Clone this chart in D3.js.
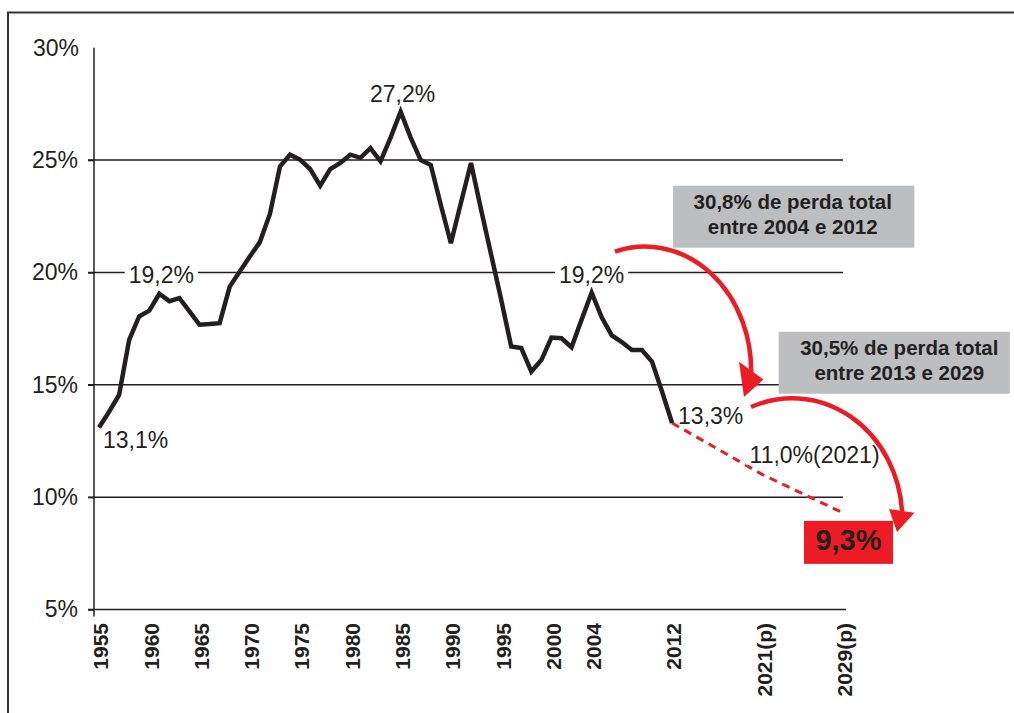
<!DOCTYPE html>
<meta charset="utf-8">
<style>
  body { margin: 0; background: #fff; }
  text { font-family: "Liberation Sans", Arial, sans-serif; fill: #231f20; }
</style>
<body>
<script src="https://d3js.org/d3.v7.min.js"></script>
<script>
  // participação (%) por ano
  var years = [1955, 1956, 1957, 1958, 1959, 1960, 1961, 1962, 1963, 1964,
    1965, 1966, 1967, 1968, 1969, 1970, 1971, 1972, 1973, 1974,
    1975, 1976, 1977, 1978, 1979, 1980, 1981, 1982, 1983, 1984,
    1985, 1986, 1987, 1988, 1989, 1990, 1991, 1992, 1993, 1994,
    1995, 1996, 1997, 1998, 1999, 2000, 2001, 2002, 2003, 2004,
    2005, 2006, 2007, 2008, 2009, 2010, 2011, 2012];
  var shares = [13.1, 13.8, 14.55, 17.0, 18.05, 18.3, 19.05, 18.72, 18.86, 18.27,
    17.67, 17.7, 17.74, 19.37, 20.04, 20.71, 21.35, 22.6, 24.71, 25.24,
    25.02, 24.6, 23.86, 24.6, 24.87, 25.24, 25.1, 25.53, 24.94, 26.0,
    27.15, 26.0, 25.0, 24.78, 23.0, 21.3, 23.1, 24.87, 22.8, 20.8,
    18.8, 16.7, 16.63, 15.59, 16.1, 17.1, 17.07, 16.67, 17.9, 19.1,
    18.0, 17.2, 16.9, 16.55, 16.55, 16.03, 14.7, 13.3];

  // projeção
  var projYears = [2012, 2021, 2029];
  var projShares = [13.3, 11.0, 9.3];

  var yTicks = [5, 10, 15, 20, 25, 30];
  var yTickLabels = ["5%", "10%", "15%", "20%", "25%", "30%"];
  var xTickYears = [1955, 1960, 1965, 1970, 1975, 1980, 1985, 1990, 1995, 2000, 2004, 2012, 2021, 2029];
  var xTickLabels = ["1955", "1960", "1965", "1970", "1975", "1980", "1985", "1990", "1995", "2000", "2004", "2012", "2021(p)", "2029(p)"];

  var width = 1014, height = 713;
  var ink = "#231f20", red = "#ed1c24", grey = "#bcbec0";

  var x = d3.scaleLinear().domain([1955, 2029]).range([99, 843]);
  var y = d3.scaleLinear().domain([5, 30]).range([609.5, 47.7]);

  var svg = d3.select("body").append("svg")
    .attr("width", width)
    .attr("height", height);

  // moldura
  svg.append("rect")
    .attr("x", 8).attr("y", 12.5)
    .attr("width", 1100).attr("height", 800)
    .attr("fill", "none")
    .attr("stroke", "#333").attr("stroke-width", 2);

  // grade
  svg.append("g").selectAll("line")
    .data(yTicks.filter(function (d) { return d > 5 && d < 30; }))
    .enter().append("line")
    .attr("x1", 88).attr("x2", 843)
    .attr("y1", function (d) { return y(d); })
    .attr("y2", function (d) { return y(d); })
    .attr("stroke", ink).attr("stroke-width", 1.5);

  // eixo y
  var yAxis = d3.axisLeft(y)
    .tickValues(yTicks.slice(0, 5))
    .tickFormat(function (d) { return yTickLabels[yTicks.indexOf(d)]; })
    .tickSize(6).tickPadding(10);
  var gy = svg.append("g")
    .attr("transform", "translate(94,0)")
    .call(yAxis);
  gy.select(".domain").remove();
  gy.selectAll(".tick line").attr("stroke", ink).attr("stroke-width", 1.5);
  gy.selectAll(".tick text")
    .style("font-size", "23px")
    .attr("fill", ink);
  // rótulo 30% (sem traço)
  svg.append("text")
    .attr("x", 79).attr("y", y(30))
    .attr("dy", "0.35em")
    .attr("text-anchor", "end")
    .style("font-size", "23px")
    .text(yTickLabels[5]);
  svg.append("line")
    .attr("x1", 94).attr("x2", 94)
    .attr("y1", y(30)).attr("y2", y(5) + 7)
    .attr("stroke", ink).attr("stroke-width", 1.5);

  // eixo x
  svg.append("line")
    .attr("x1", 88).attr("x2", 846)
    .attr("y1", y(5)).attr("y2", y(5))
    .attr("stroke", ink).attr("stroke-width", 1.5);
  svg.append("g").selectAll("text")
    .data(xTickYears)
    .enter().append("text")
    .attr("transform", function (d) {
      return "translate(" + (x(d) + 2) + "," + 623 + ") rotate(-90)";
    })
    .attr("dy", "0.35em")
    .attr("text-anchor", "end")
    .style("font-size", "21px")
    .style("font-weight", "bold")
    .text(function (d, i) { return xTickLabels[i]; });

  // projeção tracejada
  var line = d3.line()
    .x(function (d) { return x(d[0]); })
    .y(function (d) { return y(d[1]); });

  svg.append("path")
    .datum(d3.zip(projYears, projShares))
    .attr("d", line)
    .attr("fill", "none")
    .attr("stroke", red)
    .attr("stroke-width", 3)
    .attr("stroke-dasharray", "8,6");

  // rótulos com fundo branco
  var labels = [
    { yr: 1955, v: 13.1, t: "13,1%", dx: 4, dy: 21, anchor: "start", bg: false },
    { yr: 1961, v: 19.2, t: "19,2%", dx: 2, dy: -7.5, anchor: "middle", bg: true },
    { yr: 1985, v: 27.2, t: "27,2%", dx: 2, dy: -9, anchor: "middle", bg: false },
    { yr: 2004, v: 19.2, t: "19,2%", dx: 0, dy: -7.5, anchor: "middle", bg: true },
    { yr: 2012, v: 13.3, t: "13,3%", dx: 6, dy: 1, anchor: "start", bg: false },
    { yr: 2021, v: 11.0, t: "11,0%(2021)", dx: -13, dy: -12, anchor: "start", bg: true }
  ];

  var lg = svg.append("g").selectAll("g")
    .data(labels)
    .enter().append("g");
  lg.append("text")
    .attr("x", function (d) { return x(d.yr) + d.dx; })
    .attr("y", function (d) { return y(d.v) + d.dy; })
    .attr("text-anchor", function (d) { return d.anchor; })
    .style("font-size", "23px")
    .text(function (d) { return d.t; })
    .each(function (d) {
      if (!d.bg) return;
      var b = this.getBBox();
      d3.select(this.parentNode).insert("rect", "text")
        .attr("x", b.x - 4).attr("y", b.y + 3)
        .attr("width", b.width + 8).attr("height", b.height - 6)
        .attr("fill", "#fff");
    });

  // série principal
  svg.append("path")
    .datum(d3.zip(years, shares))
    .attr("d", line)
    .attr("fill", "none")
    .attr("stroke", ink)
    .attr("stroke-width", 4.5)
    .attr("stroke-linejoin", "miter");

  // caixas cinza
  var boxes = [
    { x0: 2012.1, x1: 2036.1, v0: 23.86, v1: 21.1, cx: 2024.0, lines: ["30,8% de perda total", "entre 2004 e 2012"] },
    { x0: 2022.6, x1: 2045.6, v0: 17.36, v1: 14.6, cx: 2034.6, lines: ["30,5% de perda total", "entre 2013 e 2029"] }
  ];
  var bg = svg.append("g").selectAll("g").data(boxes).enter().append("g");
  bg.append("rect")
    .attr("x", function (d) { return x(d.x0); })
    .attr("y", function (d) { return y(d.v0); })
    .attr("width", function (d) { return x(d.x1) - x(d.x0); })
    .attr("height", function (d) { return y(d.v1) - y(d.v0); })
    .attr("fill", grey);
  bg.each(function (d) {
    var g = d3.select(this);
    d.lines.forEach(function (t, i) {
      g.append("text")
        .attr("x", x(d.cx))
        .attr("y", y(d.v0) + 23 + i * 25)
        .attr("text-anchor", "middle")
        .style("font-size", "20.5px")
        .style("font-weight", "bold")
        .text(t);
    });
  });

  // setas vermelhas
  var arrows = [
    { s: [2006.32, 20.92], e: [2019.85, 15.35], rx: 106, ry: 124,
      b1: [2018.66, 16.03], b2: [2021.09, 15.24], tip: [2019.15, 14.46] },
    { s: [2019.85, 14.01], e: [2034.87, 9.38], rx: 110, ry: 121,
      b1: [2033.58, 9.47], b2: [2036.11, 9.30], tip: [2034.37, 8.45] }
  ];
  var ag = svg.append("g").selectAll("g").data(arrows).enter().append("g");
  ag.append("path")
    .attr("d", function (d) {
      return "M" + x(d.s[0]) + "," + y(d.s[1]) +
        "A" + d.rx + "," + d.ry + " 0 0 1 " + x(d.e[0]) + "," + y(d.e[1]);
    })
    .attr("fill", "none")
    .attr("stroke", red)
    .attr("stroke-width", 4.5);
  ag.append("path")
    .attr("d", function (d) {
      return "M" + [d.b1, d.b2, d.tip].map(function (p) {
        return x(p[0]) + "," + y(p[1]);
      }).join("L") + "Z";
    })
    .attr("fill", red);

  // valor final
  var last = projShares.length - 1;
  svg.append("rect")
    .attr("x", x(projYears[last]) - 39)
    .attr("y", y(projShares[last]) + 8)
    .attr("width", 89).attr("height", 43)
    .attr("fill", red);
  svg.append("text")
    .attr("x", x(projYears[last]) + 5.5)
    .attr("y", y(projShares[last]) + 37)
    .attr("text-anchor", "middle")
    .style("font-size", "29px")
    .style("font-weight", "bold")
    .text("9,3%");
</script>
</body>
